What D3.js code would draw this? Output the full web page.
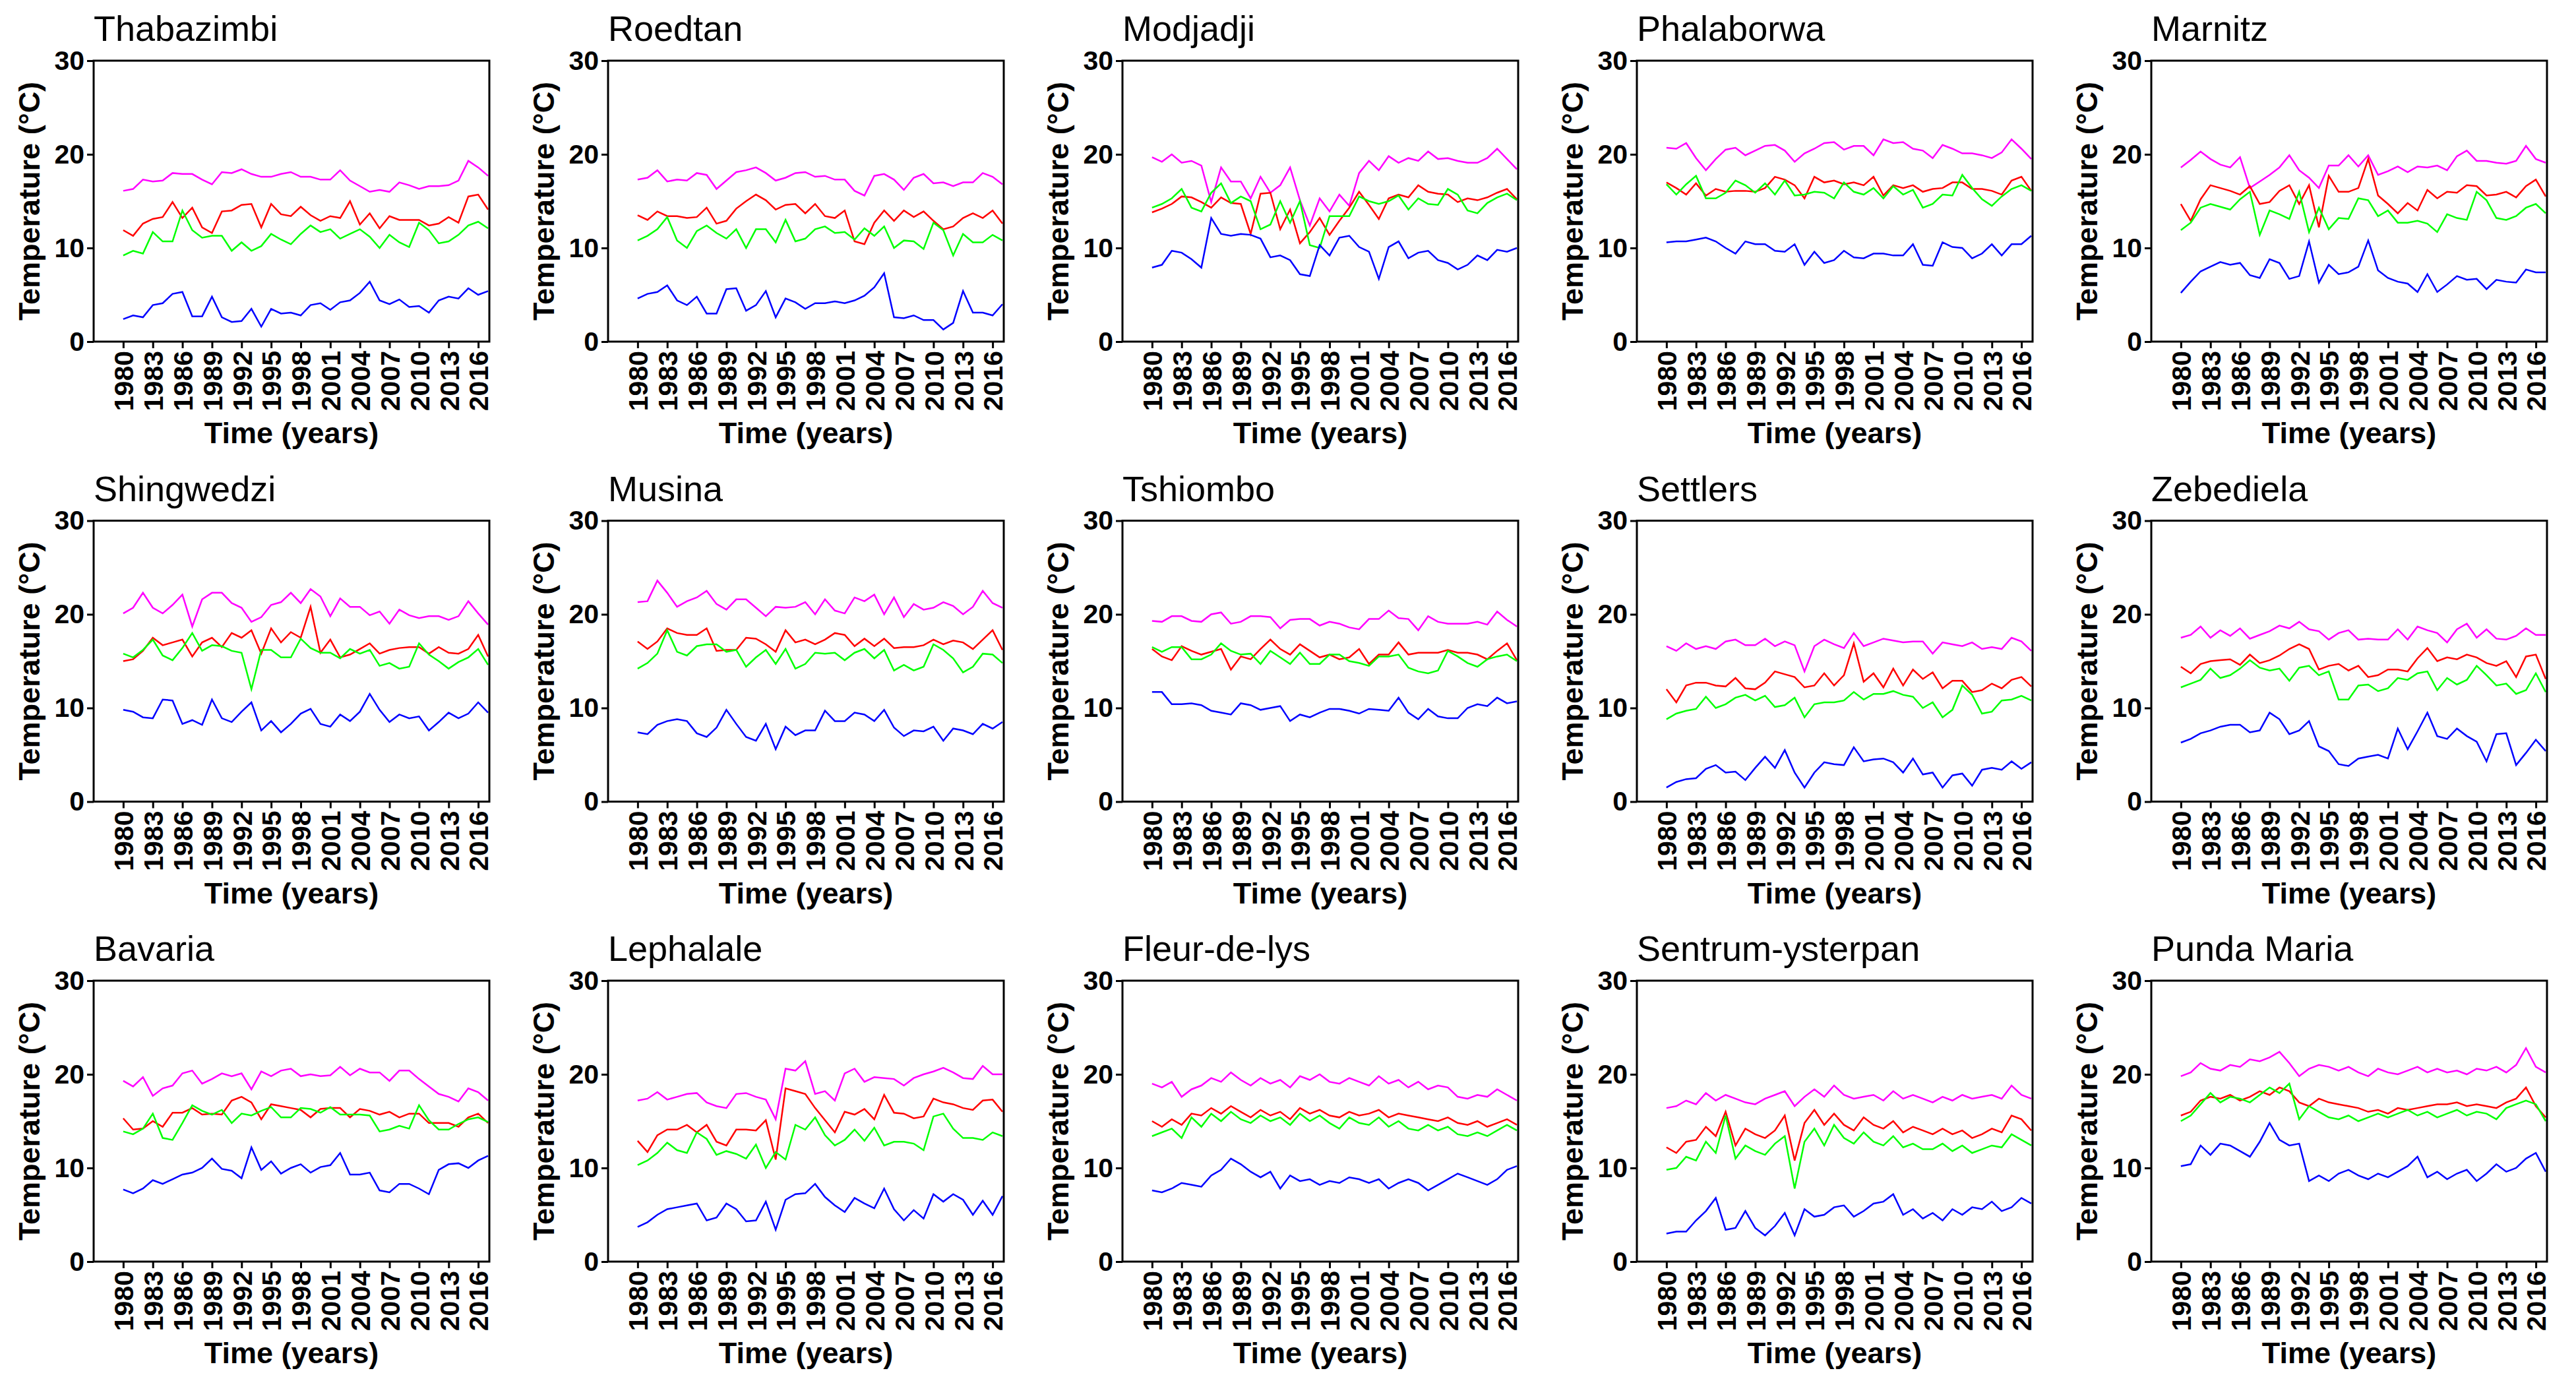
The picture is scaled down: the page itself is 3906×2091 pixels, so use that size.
<!DOCTYPE html>
<html><head><meta charset="utf-8">
<script src="https://cdn.jsdelivr.net/npm/d3@7"></script>
<style>body{margin:0;background:#fff}svg{display:block}</style>
</head><body>
<script>
const years = d3.range(1980, 2018);
const tickYears = d3.range(1980, 2017, 3);
const yTickValues = [0, 10, 20, 30];
const stations = ["Thabazimbi","Roedtan","Modjadji","Phalaborwa","Marnitz",
  "Shingwedzi","Musina","Tshiombo","Settlers","Zebediela",
  "Bavaria","Lephalale","Fleur-de-lys","Sentrum-ysterpan","Punda Maria"];
const seriesColors = ["#ff00ff","#ff0000","#00ff00","#0000ff"];

// magenta series, one row per station
const magentaValues = [
[16.1,16.3,17.3,17.1,17.2,18.0,17.9,17.9,17.3,16.8,18.1,18.0,18.4,17.9,17.6,17.6,17.9,18.1,17.6,17.6,17.3,17.3,18.3,17.2,16.6,16.0,16.2,16.0,17.0,16.7,16.3,16.6,16.6,16.7,17.2,19.3,18.6,17.7],
[17.3,17.5,18.3,17.1,17.3,17.2,18.0,17.8,16.3,17.2,18.1,18.3,18.6,18.0,17.2,17.5,18.0,18.1,17.6,17.7,17.3,17.3,16.1,15.6,17.7,17.9,17.3,16.2,17.5,17.9,16.9,17.0,16.6,17.0,17.0,18.0,17.6,16.8],
[19.7,19.2,20.0,19.1,19.3,18.8,14.9,18.6,17.1,17.1,15.3,17.6,15.9,16.7,18.6,15.1,12.4,15.3,13.9,15.7,14.5,18.0,19.3,18.3,19.8,19.1,19.6,19.3,20.3,19.5,19.6,19.3,19.1,19.1,19.6,20.6,19.5,18.4],
[20.7,20.6,21.2,19.6,18.3,19.5,20.5,20.7,19.9,20.4,20.9,21.0,20.4,19.2,20.1,20.6,21.2,21.3,20.5,20.9,20.9,19.9,21.6,21.2,21.3,20.6,20.4,19.6,21.0,20.6,20.1,20.1,19.9,19.6,20.2,21.6,20.6,19.5],
[18.6,19.4,20.3,19.5,18.9,18.6,19.7,16.4,17.1,17.8,18.6,19.9,18.3,17.5,16.4,18.8,18.8,19.9,18.7,19.9,17.8,18.2,18.7,18.1,18.7,18.6,18.8,18.3,19.8,20.4,19.3,19.3,19.1,19.0,19.3,20.9,19.5,19.1],
[20.1,20.7,22.3,20.7,20.1,21.0,22.1,18.7,21.6,22.3,22.3,21.2,20.7,19.2,19.7,21.0,21.3,22.3,21.2,22.7,21.9,19.8,21.7,20.8,20.8,19.9,20.3,19.0,20.5,19.9,19.6,19.8,19.8,19.4,19.8,21.4,20.1,18.9],
[21.3,21.4,23.6,22.3,20.8,21.4,21.8,22.5,21.1,20.5,21.6,21.6,20.7,19.8,20.8,20.7,20.8,21.3,20.0,21.6,20.4,20.1,21.8,21.4,22.1,20.0,21.8,19.7,21.1,20.5,20.7,21.3,20.9,20.0,20.8,22.5,21.2,20.7],
[19.3,19.2,19.8,19.8,19.3,19.2,20.0,20.2,19.0,19.2,19.8,19.8,19.7,18.5,19.4,19.5,19.5,18.8,19.2,19.0,18.6,18.4,19.5,19.5,20.4,19.6,19.5,18.3,19.8,19.2,19.0,19.0,19.0,19.2,18.9,20.3,19.4,18.7],
[16.6,16.1,16.9,16.3,16.6,16.3,17.1,17.3,16.7,16.7,17.4,16.6,17.1,16.7,13.9,16.6,17.3,16.8,16.4,18.0,16.6,17.0,17.4,17.2,17.0,17.1,17.1,15.8,17.0,16.8,16.6,17.0,16.3,16.5,16.3,17.5,17.1,16.1],
[17.5,17.8,18.7,17.5,18.3,17.7,18.5,17.4,17.8,18.2,18.8,18.5,19.2,18.4,18.2,17.3,18.0,18.3,17.3,17.4,17.3,17.3,18.4,17.3,18.7,18.3,18.0,17.0,18.4,19.0,17.5,18.4,17.4,17.3,17.7,18.5,17.8,17.8],
[19.3,18.7,19.7,17.7,18.5,18.8,20.1,20.4,19.0,19.5,20.1,19.8,20.1,18.4,20.3,19.8,20.4,20.6,19.8,20.0,19.8,19.9,20.8,19.9,20.6,20.2,20.2,19.3,20.4,20.4,19.5,18.7,17.9,17.6,17.1,18.5,18.1,17.2],
[17.2,17.4,18.1,17.3,17.6,17.9,18.0,17.0,16.6,16.4,17.9,18.0,17.6,17.3,15.2,20.6,20.4,21.4,17.9,18.2,17.2,20.1,20.6,19.2,19.7,19.6,19.5,18.8,19.6,20.0,20.3,20.7,20.2,19.6,19.5,20.9,20.0,20.0],
[19.0,18.6,19.2,17.6,18.4,18.8,19.6,19.2,20.2,19.4,18.8,19.6,19.0,19.4,18.6,19.8,19.4,20.0,19.2,19.0,19.6,19.2,18.8,19.8,19.0,19.4,18.6,19.2,18.4,18.8,18.6,17.6,17.4,17.8,17.6,18.4,17.8,17.2],
[16.4,16.6,17.2,16.8,18.0,17.2,17.8,17.4,17.0,16.8,17.4,17.8,18.2,16.6,17.6,18.4,17.6,18.8,17.8,17.4,17.6,17.8,17.2,18.2,17.4,17.8,17.4,17.0,17.6,17.2,17.8,17.4,17.6,17.8,17.4,18.8,17.8,17.4],
[19.8,20.2,21.2,20.6,20.4,21.0,20.8,21.6,21.4,21.8,22.4,21.2,19.8,20.6,21.0,20.8,20.4,20.8,20.2,19.8,20.6,20.2,20.0,20.4,20.8,20.2,20.6,20.2,20.4,20.0,20.6,20.4,20.8,20.2,21.0,22.8,20.8,20.2]
];

// red series
const redValues = [
[11.9,11.3,12.6,13.1,13.3,14.9,13.2,14.3,12.2,11.6,13.9,14.0,14.6,14.7,12.2,14.7,13.6,13.4,14.4,13.5,12.9,13.4,13.2,15.0,12.5,13.7,12.1,13.4,13.0,13.0,13.0,12.4,12.6,13.3,12.7,15.5,15.7,14.1],
[13.5,13.0,13.9,13.4,13.4,13.2,13.3,14.3,12.6,12.9,14.2,15.0,15.7,15.1,14.1,14.6,14.7,13.7,14.7,13.4,13.2,14.0,10.7,10.4,12.7,14.0,12.9,14.0,13.3,13.9,12.9,12.0,12.3,13.2,13.7,13.2,14.0,12.6],
[13.8,14.2,14.7,15.5,15.4,14.9,14.3,15.4,14.8,14.7,11.5,15.8,15.9,12.0,14.1,10.5,11.7,13.2,11.4,12.9,14.3,16.0,14.6,13.1,15.3,15.7,15.4,16.7,16.0,15.8,15.7,14.9,15.3,15.1,15.4,15.9,16.3,15.2],
[17.0,16.4,15.7,16.9,15.6,16.3,16.0,16.1,16.1,16.0,16.4,17.6,17.3,16.7,15.3,17.6,17.0,17.2,16.8,17.0,16.7,17.6,15.6,16.7,16.4,16.7,16.0,16.3,16.4,17.0,17.0,16.3,16.3,16.1,15.7,17.2,17.6,16.1],
[14.7,12.9,15.2,16.7,16.4,16.1,15.7,16.6,14.7,14.9,16.1,16.7,14.7,16.7,12.2,17.7,16.0,16.0,16.4,19.5,15.6,14.7,13.7,14.8,14.0,16.2,15.3,16.0,15.9,16.7,16.6,15.6,15.7,16.0,15.4,16.6,17.3,15.5],
[15.0,15.2,16.1,17.5,16.7,17.0,17.3,15.5,17.0,17.5,16.5,18.0,17.5,18.3,15.8,18.5,17.0,18.1,17.5,20.8,15.9,17.3,15.4,15.7,16.3,16.9,15.8,16.2,16.4,16.5,16.5,15.8,16.5,15.9,15.8,16.3,17.8,15.5],
[17.1,16.3,17.1,18.5,18.0,17.8,17.8,18.5,16.1,16.2,16.2,17.5,17.4,16.8,16.0,18.3,17.0,17.3,16.8,17.3,18.0,17.8,16.6,17.4,16.6,17.4,16.4,16.5,16.5,16.7,17.3,16.8,17.2,17.0,16.3,17.3,18.3,16.2],
[16.3,15.5,15.1,16.6,16.1,15.7,16.0,16.3,14.1,15.5,15.2,16.3,17.3,16.3,15.7,16.8,16.1,15.4,15.7,15.2,15.4,16.3,14.7,15.7,15.7,17.0,15.7,15.9,15.9,15.9,16.2,15.9,15.9,15.7,15.2,16.1,16.9,15.1],
[12.0,10.6,12.4,12.7,12.7,12.4,12.3,13.2,12.1,12.0,12.7,13.9,13.6,13.3,12.2,12.4,13.7,12.4,13.5,16.9,12.8,13.7,12.2,14.2,12.4,14.1,13.1,13.8,12.1,12.9,12.9,11.7,11.9,12.6,12.1,13.0,13.3,12.3],
[14.4,13.7,14.7,15.0,15.1,15.2,14.6,15.7,14.8,15.1,15.6,16.3,16.8,16.3,14.1,14.5,14.7,14.0,14.5,13.3,13.5,14.1,14.1,13.9,15.3,16.4,15.0,15.4,15.2,15.7,15.4,14.8,14.5,15.0,13.3,15.5,15.7,13.1],
[15.3,14.1,14.2,15.0,14.4,15.9,15.9,16.4,15.7,15.8,15.7,17.2,17.6,17.0,15.2,16.8,16.6,16.4,16.2,15.4,16.3,16.4,16.4,15.4,16.3,16.1,15.7,16.0,15.4,15.8,15.8,14.8,14.8,14.8,14.4,15.4,15.8,14.8],
[12.9,11.7,13.5,14.1,14.1,14.6,13.8,14.6,12.8,12.4,14.1,14.1,14.0,15.1,10.9,18.5,18.2,17.9,16.4,15.1,13.8,16.0,15.7,16.3,15.2,17.8,15.9,15.8,15.3,15.5,17.4,17.0,16.8,16.4,16.2,17.2,17.3,16.0],
[15.0,14.4,15.2,14.6,15.8,15.6,16.4,15.8,16.6,16.0,15.4,16.2,15.6,16.0,15.2,16.4,15.8,16.2,15.6,15.4,16.0,15.6,15.8,16.2,15.4,15.8,15.6,15.4,15.2,15.0,15.4,14.8,14.6,15.0,14.4,14.8,15.2,14.6],
[12.2,11.6,12.8,13.0,14.4,13.4,16.0,12.4,14.2,13.6,13.2,14.0,15.6,10.8,14.8,16.2,14.6,15.8,14.6,14.0,15.4,14.6,14.2,15.0,13.8,14.4,14.0,13.6,14.2,13.6,14.0,13.2,13.6,14.2,13.8,15.6,15.2,14.0],
[15.6,16.0,17.2,17.6,17.4,17.8,17.2,17.6,18.2,17.8,18.6,18.2,17.0,16.6,17.4,17.0,16.8,16.6,16.4,16.0,16.2,15.8,16.4,16.2,16.4,16.6,16.8,16.8,17.0,16.6,16.8,16.6,16.4,17.0,17.4,18.6,16.6,15.4]
];

// green series
const greenValues = [
[9.2,9.7,9.4,11.7,10.7,10.7,14.0,11.9,11.1,11.3,11.3,9.7,10.6,9.7,10.2,11.5,10.9,10.4,11.5,12.4,11.7,12.0,11.0,11.5,12.0,11.2,10.0,11.4,10.6,10.1,12.7,11.9,10.5,10.7,11.4,12.4,12.8,12.1],
[10.8,11.3,12.0,13.3,10.8,10.0,11.8,12.4,11.6,11.0,12.0,10.0,12.0,12.0,10.6,13.0,10.7,11.0,12.0,12.3,11.6,11.7,10.9,12.1,11.3,12.3,10.0,10.8,10.7,9.9,12.7,11.9,9.2,11.5,10.6,10.6,11.4,10.8],
[14.3,14.7,15.3,16.3,14.3,13.9,15.9,16.9,14.8,15.5,15.0,12.0,12.5,15.0,12.7,15.0,10.3,10.0,13.4,13.4,13.4,15.5,15.0,14.7,15.0,15.6,14.1,15.3,14.7,14.6,16.3,15.7,14.0,13.7,14.8,15.4,15.8,15.1],
[16.8,15.7,16.8,17.7,15.3,15.3,15.9,17.2,16.7,15.9,16.9,15.7,17.2,15.6,15.7,16.0,15.9,15.3,17.0,16.0,15.7,16.4,15.3,16.6,15.7,16.2,14.3,14.7,15.7,15.6,17.8,16.4,15.2,14.5,15.5,16.3,16.7,16.1],
[11.9,12.7,14.3,14.7,14.4,14.1,15.2,16.0,11.4,14.0,13.6,13.1,16.0,11.7,14.3,12.0,13.2,13.1,15.3,15.1,13.4,14.0,12.7,12.7,12.9,12.6,11.7,13.6,13.2,13.0,16.0,15.1,13.2,13.0,13.4,14.3,14.7,13.7],
[15.8,15.4,16.2,17.3,15.6,15.1,16.4,18.0,16.1,16.7,16.6,16.1,15.9,12.0,16.2,16.2,15.4,15.4,17.4,16.4,15.9,15.9,15.3,16.3,15.8,16.2,14.5,14.8,14.2,14.4,16.9,15.7,15.0,14.2,14.9,15.4,16.3,14.6],
[14.2,14.8,15.8,18.3,16.0,15.6,16.6,16.8,16.8,16.0,16.2,14.4,15.4,16.2,14.7,16.3,14.2,14.7,15.9,15.8,15.9,15.1,15.9,16.3,15.3,16.2,14.0,14.6,14.0,14.4,16.8,16.2,15.3,13.8,14.4,15.8,15.7,14.8],
[16.5,16.0,16.5,16.5,15.2,15.2,15.7,16.9,16.1,15.7,15.8,14.7,16.1,15.4,14.7,15.9,14.7,14.7,15.7,15.7,15.0,14.8,14.5,15.5,15.5,15.7,14.3,13.9,13.7,14.0,16.1,15.5,14.8,14.4,15.2,15.5,15.7,15.0],
[8.8,9.4,9.7,9.9,11.2,10.0,10.4,11.1,11.4,10.8,11.3,10.1,10.3,11.1,9.0,10.4,10.6,10.6,10.8,11.7,10.9,11.5,11.5,11.8,11.4,11.2,10.0,10.6,9.0,9.8,12.4,11.4,9.4,9.6,10.8,10.9,11.3,10.8],
[12.2,12.6,13.0,14.2,13.2,13.5,14.2,15.1,14.3,14.0,14.2,12.9,14.3,14.5,13.5,13.9,10.9,10.9,12.4,12.5,11.8,12.1,13.2,13.0,13.7,13.9,11.9,13.2,12.5,13.0,14.5,13.5,12.4,12.6,11.5,11.9,13.7,11.7],
[13.9,13.6,14.2,15.8,13.2,13.0,14.8,16.7,16.1,15.7,16.2,14.8,15.8,15.6,16.1,16.5,15.4,15.4,16.4,16.3,15.9,16.5,15.7,15.7,15.7,15.6,13.9,14.1,14.5,14.2,16.7,15.1,14.1,14.1,14.7,15.2,15.4,14.9],
[10.3,10.8,11.6,12.7,11.9,11.6,13.8,13.1,11.4,11.8,11.5,11.0,12.5,10.0,11.7,10.9,14.6,14.1,15.4,13.5,12.4,13.0,14.1,12.9,14.3,12.4,12.8,12.8,12.6,11.9,15.5,15.8,14.2,13.2,13.2,13.0,13.8,13.4],
[13.4,13.8,14.2,13.2,15.4,14.4,15.8,15.0,16.0,15.2,14.8,15.6,15.0,15.4,14.6,15.8,15.0,15.6,14.8,14.2,15.4,14.8,14.6,15.4,14.4,15.0,14.2,14.0,14.6,14.0,14.4,13.6,13.4,13.8,13.4,14.0,14.6,14.0],
[9.8,10.0,11.2,10.8,12.8,11.6,15.6,11.0,12.4,11.8,11.4,12.6,13.4,7.8,12.8,14.2,12.4,14.6,13.2,12.6,13.8,12.8,12.4,13.4,12.2,12.6,12.0,12.0,12.6,11.8,12.4,11.6,12.0,12.4,12.2,13.6,13.0,12.4],
[15.0,15.6,16.8,18.0,17.0,17.6,17.4,17.0,17.8,18.6,18.0,19.0,15.2,16.6,16.0,15.4,15.2,15.6,15.0,15.4,15.8,15.4,15.8,16.2,15.6,16.0,15.4,15.8,16.2,15.6,16.0,15.8,15.2,16.4,16.8,17.2,16.8,15.0]
];

// blue series
const blueValues = [
[2.4,2.8,2.6,3.9,4.1,5.1,5.3,2.7,2.7,4.8,2.6,2.1,2.2,3.5,1.6,3.5,3.0,3.1,2.8,3.9,4.1,3.4,4.2,4.4,5.2,6.4,4.4,4.0,4.5,3.7,3.8,3.1,4.4,4.8,4.6,5.7,5.0,5.4],
[4.6,5.1,5.3,6.0,4.4,3.9,4.8,3.0,3.0,5.6,5.7,3.3,3.9,5.4,2.6,4.6,4.2,3.5,4.1,4.1,4.3,4.1,4.4,4.9,5.8,7.3,2.6,2.5,2.8,2.3,2.3,1.3,2.0,5.4,3.1,3.1,2.8,4.0],
[7.9,8.2,9.7,9.5,8.8,7.9,13.2,11.5,11.3,11.5,11.4,11.0,9.0,9.2,8.7,7.2,7.0,10.3,9.2,11.1,11.3,10.1,9.6,6.7,10.1,10.7,8.9,9.5,9.7,8.7,8.4,7.7,8.2,9.2,8.7,9.8,9.6,10.0],
[10.6,10.7,10.7,10.9,11.1,10.7,10.0,9.4,10.7,10.4,10.4,9.7,9.6,10.4,8.2,9.6,8.4,8.7,9.7,9.0,8.9,9.4,9.4,9.2,9.2,10.4,8.2,8.1,10.6,10.1,10.0,8.9,9.4,10.4,9.2,10.4,10.4,11.3],
[5.2,6.4,7.5,8.0,8.5,8.2,8.4,7.1,6.8,8.8,8.4,6.7,7.0,10.7,6.3,8.2,7.2,7.4,8.0,10.8,7.6,6.8,6.4,6.2,5.3,7.2,5.3,6.1,7.0,6.6,6.7,5.6,6.6,6.4,6.3,7.7,7.4,7.4],
[9.8,9.6,9.0,8.9,10.9,10.8,8.3,8.7,8.2,10.9,8.9,8.5,9.6,10.6,7.6,8.6,7.4,8.3,9.4,9.9,8.3,8.0,9.3,8.6,9.6,11.5,9.8,8.5,9.3,8.9,9.1,7.6,8.5,9.5,8.9,9.4,10.6,9.5],
[7.4,7.2,8.2,8.6,8.8,8.6,7.3,6.9,7.9,9.8,8.3,6.9,6.5,8.3,5.6,8.0,7.1,7.6,7.6,9.7,8.6,8.6,9.5,9.3,8.6,9.8,7.9,7.0,7.6,7.5,8.0,6.5,7.8,7.6,7.2,8.3,7.8,8.5],
[11.7,11.7,10.4,10.4,10.5,10.3,9.7,9.5,9.3,10.5,10.3,9.8,10.0,10.2,8.6,9.3,9.0,9.5,9.9,9.9,9.7,9.4,9.9,9.8,9.7,11.1,9.5,8.8,9.9,9.1,8.9,8.9,10.0,10.4,10.2,11.1,10.5,10.7],
[1.5,2.1,2.4,2.5,3.5,3.9,3.1,3.2,2.3,3.6,4.8,3.6,5.5,3.1,1.5,3.1,4.2,4.0,3.9,5.8,4.3,4.5,4.6,4.2,3.1,4.6,2.9,3.1,1.5,2.8,3.0,1.7,3.4,3.6,3.4,4.3,3.5,4.2],
[6.3,6.7,7.3,7.6,8.0,8.2,8.2,7.4,7.6,9.5,8.8,7.2,7.6,8.6,5.9,5.4,4.0,3.8,4.6,4.8,5.0,4.6,7.8,5.6,7.5,9.5,7.0,6.7,7.8,7.0,6.4,4.3,7.2,7.3,3.9,5.2,6.6,5.4],
[7.7,7.3,7.8,8.7,8.3,8.8,9.3,9.5,10.0,11.0,9.9,9.7,8.9,12.2,9.8,10.7,9.4,10.0,10.4,9.5,10.1,10.3,11.6,9.3,9.3,9.5,7.6,7.4,8.3,8.3,7.8,7.2,9.8,10.4,10.5,10.0,10.8,11.3],
[3.7,4.2,5.0,5.6,5.8,6.0,6.2,4.4,4.7,6.2,5.6,4.3,4.4,6.4,3.4,6.6,7.2,7.3,8.3,6.9,6.0,5.3,6.8,6.2,5.7,7.8,5.6,4.4,5.5,4.6,7.2,6.4,7.2,6.6,5.0,6.5,5.0,7.0],
[7.6,7.4,7.8,8.4,8.2,8.0,9.2,9.8,11.0,10.4,9.6,9.0,9.6,7.8,9.2,8.6,8.8,8.2,8.6,8.4,9.0,8.8,8.4,8.8,7.8,8.4,8.8,8.4,7.6,8.2,8.8,9.4,9.0,8.6,8.2,8.8,9.8,10.2],
[3.0,3.2,3.2,4.4,5.4,6.8,3.4,3.6,5.4,3.6,2.8,3.8,5.2,2.8,5.6,4.8,5.0,5.8,6.0,4.8,5.4,6.2,6.4,7.2,5.0,5.6,4.6,5.2,4.4,5.6,5.0,5.8,5.6,6.4,5.4,5.8,6.8,6.2],
[10.2,10.4,12.4,11.4,12.6,12.4,11.8,11.2,12.8,14.8,13.0,12.4,12.6,8.6,9.2,8.6,9.4,9.8,9.2,8.8,9.4,9.0,9.6,10.2,11.2,9.0,9.6,8.8,9.4,9.8,8.6,9.4,10.4,9.6,10.0,11.0,11.6,9.6]
];

const W = 3906, H = 2091;
const plotW = 600, plotH = 426;
const colX0 = 142, colStep = 780, rowY0 = 92, rowStep = 697.5;
const FONT = "'Liberation Sans', Arial, sans-serif";

const svg = d3.select("body").append("svg").attr("width", W).attr("height", H)
  .style("background", "#fff");

const x = d3.scaleLinear().domain([1977.0, 2017.13]).range([0, plotW]);
const y = d3.scaleLinear().domain([0, 30]).range([plotH, 0]);
const line = d3.line().x((d, i) => x(years[i])).y(d => y(d));

stations.forEach((name, p) => {
  const c = p % 5, r = Math.floor(p / 5);
  const g = svg.append("g").attr("transform", `translate(${colX0 + c * colStep},${rowY0 + r * rowStep})`);

  const allSeries = [magentaValues[p], redValues[p], greenValues[p], blueValues[p]];
  allSeries.forEach((vals, k) => {
    g.append("path").datum(vals).attr("d", line)
      .attr("fill", "none").attr("stroke", seriesColors[k])
      .attr("stroke-width", 2.5).attr("stroke-linejoin", "miter");
  });

  g.append("rect").attr("width", plotW).attr("height", plotH)
    .attr("fill", "none").attr("stroke", "#000").attr("stroke-width", 3);

  const ya = g.append("g").call(d3.axisLeft(y).tickValues(yTickValues).tickSize(10).tickPadding(4));
  ya.select(".domain").remove();
  ya.selectAll("line").attr("stroke-width", 3);
  ya.selectAll("text").attr("font-family", FONT).attr("font-size", 41)
    .attr("font-weight", "bold").attr("fill", "#000");

  const xa = g.append("g").attr("transform", `translate(0,${plotH})`)
    .call(d3.axisBottom(x).tickValues(tickYears).tickFormat(d3.format("d")).tickSize(10));
  xa.select(".domain").remove();
  xa.selectAll("line").attr("stroke-width", 3);
  xa.selectAll("text").attr("font-family", FONT).attr("font-size", 41)
    .attr("font-weight", "bold").attr("fill", "#000")
    .attr("transform", "rotate(-90)").attr("text-anchor", "end")
    .attr("x", -14).attr("y", 0).attr("dy", "0.36em");

  g.append("text").text(name).attr("x", 0).attr("y", -30)
    .attr("font-family", FONT).attr("font-size", 54).attr("fill", "#000");

  g.append("text").text("Temperature (°C)")
    .attr("transform", `translate(-82,${plotH / 2}) rotate(-90)`)
    .attr("text-anchor", "middle").attr("font-family", FONT).attr("font-size", 45)
    .attr("font-weight", "bold").attr("fill", "#000");

  g.append("text").text("Time (years)").attr("x", plotW / 2).attr("y", plotH + 154)
    .attr("text-anchor", "middle").attr("font-family", FONT).attr("font-size", 45)
    .attr("font-weight", "bold").attr("fill", "#000");
});
</script>
</body></html>
